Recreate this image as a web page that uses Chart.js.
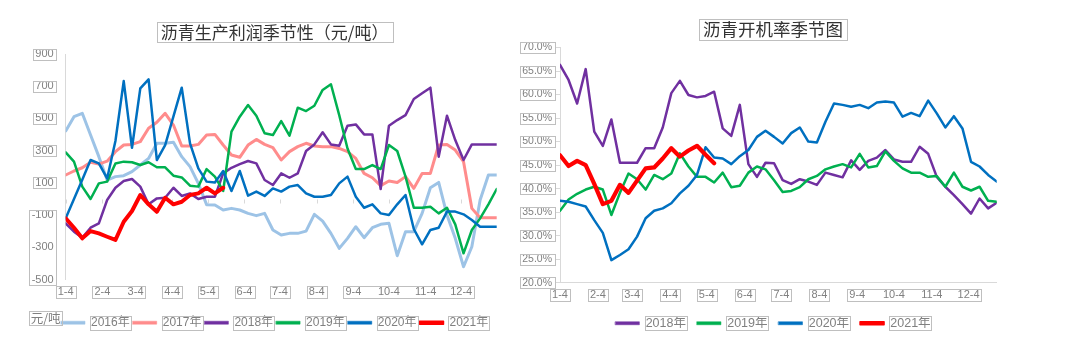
<!DOCTYPE html>
<html>
<head>
<meta charset="utf-8">
<title>沥青季节性</title>
<script src="https://cdn.jsdelivr.net/npm/chart.js@4.4.1/dist/chart.umd.min.js"></script>
<style>
	html, body { margin: 0; padding: 0; background: #fff; }
	#wrap { position: relative; width: 1080px; height: 343px; overflow: hidden; }
	.box { position: absolute; top: 0; height: 343px; }
	#profitBox { left: 0; width: 560px; }
	#rateBox { left: 500px; width: 580px; }
</style>
</head>
<body>
<div id="wrap">
	<div class="box" id="profitBox"><canvas id="profit-chart" width="560" height="343"></canvas></div>
	<div class="box" id="rateBox"><canvas id="rate-chart" width="580" height="343"></canvas></div>
</div>
<script>
// 横轴：按周排列，刻度放在每月4日
var monthDays = [0, 31, 59, 90, 120, 151, 181, 212, 243, 273, 304, 334];
var monthLabels = ['1-4', '2-4', '3-4', '4-4', '5-4', '6-4', '7-4', '8-4', '9-4', '10-4', '11-4', '12-4'];
var profitWeeks = Array.from({ length: 53 }, function(_, i) { return i; });
var rateWeeks = Array.from({ length: 52 }, function(_, i) { return i; });

// 沥青生产利润（元/吨）
var profit2016 = [422, 511, 532, 397, 263, 118, 139, 145, 170, 211, 252, 346, 346, 352, 263, 201, 97, -35, -37, -68, -58, -68, -89, -103, -89, -192, -223, -213, -213, -199, -95, -137, -213, -306, -244, -172, -240, -178, -157, -151, -352, -203, -203, -89, 70, 103, -99, -244, -420, -296, -6, 149, 149];
var profit2017 = [149, 174, 194, 228, 217, 235, 294, 335, 339, 356, 439, 476, 532, 459, 329, 329, 339, 397, 401, 335, 273, 259, 335, 370, 339, 319, 242, 294, 325, 346, 329, 325, 325, 314, 294, 252, 159, 132, 83, 112, 103, 139, 66, 159, 159, 335, 339, 304, 232, -58, -116, -116, -116];
var profit2018 = [-151, -203, -240, -178, -151, -6, 70, 112, 124, 77, -33, 4, 8, 70, 19, 35, 0, 14, 14, 159, 194, 217, 236, 221, 118, 87, 159, 132, 159, 298, 339, 414, 339, 331, 455, 463, 401, 401, 62, 455, 490, 521, 621, 656, 691, 263, 517, 366, 242, 339, 339, 339, 339];
var profit2019 = [290, 232, 77, 0, 97, 108, 221, 232, 228, 211, 228, 197, 197, 145, 134, 83, 77, 186, 139, 50, 418, 511, 583, 517, 408, 397, 484, 393, 567, 546, 579, 677, 712, 521, 314, 186, 186, 211, 186, 335, 298, 139, -54, -54, -48, -89, -54, -157, -337, -192, -120, -33, 62];
var profit2020 = [-120, 0, 120, 242, 221, 128, 360, 732, 318, 687, 743, 242, 335, 513, 691, 345, 190, 108, 103, 174, 50, 174, 21, 46, 19, 66, 46, 77, 87, 35, 14, 14, 25, 97, 139, 14, -54, -33, -89, -99, -33, 25, -186, -281, -192, -178, -78, -78, -95, -130, -172, -172, -172];
var profit2021 = [-120, -178, -244, -199, -213, -234, -254, -141, -74, 25, -33, -79, 8, -33, -17, 25, 35, 70, 35, 70];

// 沥青开机率（%）
var rate2018 = [66.3, 63.1, 58.1, 65.4, 52.1, 49.1, 54.7, 45.5, 45.5, 45.5, 48.6, 48.6, 53.0, 60.3, 62.9, 59.9, 59.4, 59.7, 60.6, 52.8, 51.2, 57.8, 45.2, 42.5, 45.5, 45.4, 41.8, 41.0, 42.0, 41.5, 40.8, 43.4, 42.9, 42.4, 46.0, 44.0, 45.9, 46.6, 48.2, 46.2, 45.7, 45.7, 48.9, 47.4, 42.5, 40.4, 38.6, 36.7, 34.7, 37.9, 35.8, 37.0];
var rate2019 = [35.3, 37.7, 38.9, 39.8, 40.4, 39.8, 34.4, 39.1, 43.2, 42.0, 39.8, 42.9, 42.0, 43.2, 47.5, 44.7, 42.5, 42.5, 41.3, 43.4, 40.3, 40.6, 43.4, 44.7, 44.1, 41.8, 39.3, 39.5, 40.3, 42.0, 42.7, 44.1, 44.7, 45.2, 44.5, 47.4, 44.5, 44.8, 47.9, 45.9, 44.3, 43.4, 43.4, 42.5, 42.7, 40.4, 43.4, 40.4, 39.6, 40.4, 37.4, 37.2];
var rate2020 = [37.4, 37.2, 36.7, 36.2, 33.3, 30.6, 24.8, 25.9, 27.1, 29.8, 33.7, 35.3, 35.8, 36.9, 39.0, 40.6, 42.9, 48.8, 46.6, 46.4, 45.2, 46.9, 48.2, 51.0, 52.3, 51.0, 49.6, 51.8, 53.0, 50.0, 49.8, 54.2, 58.1, 57.8, 57.4, 57.8, 57.1, 58.3, 58.5, 58.3, 55.3, 56.1, 55.4, 58.7, 56.0, 53.0, 55.4, 52.8, 45.7, 44.7, 42.9, 41.5];
var rate2021 = [47.1, 44.8, 45.9, 45.0, 41.0, 36.7, 37.4, 40.8, 39.1, 41.7, 44.3, 44.5, 46.4, 48.6, 46.8, 48.1, 49.1, 47.2, 45.4];

var GRID_COLOR = '#D9D9D9';
var BOX_COLOR = '#BFBFBF';
var TEXT_COLOR = '#808080';
var LATIN = '"Liberation Sans", "Noto Sans CJK SC", sans-serif';
var CJK = '"Noto Sans CJK SC", "Liberation Sans", sans-serif';

Chart.defaults.font.family = LATIN;
Chart.defaults.color = TEXT_COLOR;

function lineSet(label, values, color, width, order) {
	return {
		label: label,
		data: values,
		borderColor: color,
		backgroundColor: color,
		borderWidth: width,
		order: order,
		pointRadius: 0,
		tension: 0,
		fill: false,
		borderJoinStyle: 'round',
		borderCapStyle: 'round'
	};
}

// 只保留每月4日的刻度
function monthTicks(scale) {
	scale.ticks = monthDays.map(function(d) {
		return { value: d / 7 };
	});
}

// 右侧空白轴，只用来占位
function spacerAxis(width) {
	return {
		position: 'right',
		display: true,
		afterFit: function(scale) { scale.width = width; },
		grid: { display: false, drawTicks: false },
		border: { display: false },
		ticks: { display: false }
	};
}

function strokeBox(ctx, l, t, r, b) {
	ctx.strokeRect(Math.round(l) + 0.5, Math.round(t) + 0.5, Math.round(r - l), Math.round(b - t));
}

// 刻度文字外的灰框，同一组的刻度共用一个框
function boxTickLabels(chart, scaleId, groups, padX, padY) {
	var ctx = chart.ctx;
	var items = chart.scales[scaleId].getLabelItems();
	groups.forEach(function(group) {
		var l = Infinity, r = -Infinity, t = Infinity, b = -Infinity;
		group.forEach(function(i) {
			var item = items[i];
			if (!item) return;
			ctx.font = item.font.string;
			var w = ctx.measureText(item.label).width;
			var x = item.options.translation[0];
			var y = item.options.translation[1] + item.textOffset;
			var align = item.options.textAlign;
			var left = align === 'right' ? x - w : (align === 'left' ? x : x - w / 2);
			l = Math.min(l, left);
			r = Math.max(r, left + w);
			t = Math.min(t, y - item.font.size / 2);
			b = Math.max(b, y + item.font.size / 2);
		});
		strokeBox(ctx, l - padX, t - padY, r + padX, b + padY);
	});
}

function boxTitle(chart) {
	var ctx = chart.ctx;
	var block = chart.titleBlock;
	var opts = block.options;
	var font = Chart.helpers.toFont(opts.font);
	var pad = Chart.helpers.toPadding(opts.padding);
	ctx.font = font.string;
	var w = ctx.measureText(opts.text).width;
	var cx = (block.left + block.right) / 2;
	var cy = block.top + pad.top + font.lineHeight / 2;
	strokeBox(ctx, cx - w / 2 - 4, cy - font.lineHeight / 2, cx + w / 2 + 4, cy + font.lineHeight / 2);
}

function boxLegend(chart) {
	var ctx = chart.ctx;
	var legend = chart.legend;
	var labelOpts = legend.options.labels;
	var font = Chart.helpers.toFont(labelOpts.font);
	ctx.font = font.string;
	legend.legendItems.forEach(function(item, i) {
		var hit = legend.legendHitBoxes[i];
		var x = hit.left + labelOpts.boxWidth + font.size / 2;
		var w = ctx.measureText(item.text).width;
		var cy = hit.top + hit.height / 2;
		strokeBox(ctx, x - 1, cy - 7, x + w + 1, cy + 7);
	});
}

function boxPlugin(cfg) {
	return {
		id: 'labelBoxes',
		beforeDatasetsDraw: function(chart) {
			if (!cfg.zeroTicks) return;
			// 零轴上的月份小刻度
			var x = chart.scales.x;
			var y0 = Math.round(chart.scales.y.getPixelForValue(0)) + 0.5;
			var ctx = chart.ctx;
			ctx.save();
			ctx.strokeStyle = GRID_COLOR;
			ctx.lineWidth = 1;
			ctx.beginPath();
			x.ticks.forEach(function(t) {
				var px = Math.round(x.getPixelForValue(t.value)) + 0.5;
				ctx.moveTo(px, y0);
				ctx.lineTo(px, y0 + 4);
			});
			ctx.stroke();
			ctx.restore();
		},
		afterDraw: function(chart) {
			var ctx = chart.ctx;
			ctx.save();
			ctx.strokeStyle = BOX_COLOR;
			ctx.lineWidth = 1;
			boxTickLabels(chart, 'x', cfg.xGroups, 2, 0.5);
			boxTickLabels(chart, 'y', cfg.yGroups, 2.5, 0);
			boxTitle(chart);
			boxLegend(chart);
			if (cfg.unit) {
				ctx.font = '12.5px ' + CJK;
				ctx.fillStyle = TEXT_COLOR;
				ctx.textAlign = 'center';
				ctx.textBaseline = 'middle';
				ctx.fillText(cfg.unit.text, cfg.unit.x, cfg.unit.y);
				var w = ctx.measureText(cfg.unit.text).width;
				strokeBox(ctx, cfg.unit.x - w / 2 - 1.5, cfg.unit.y - 7, cfg.unit.x + w / 2 + 1.5, cfg.unit.y + 7);
			}
			ctx.restore();
		}
	};
}

function legendItems(chart) {
	var items = Chart.defaults.plugins.legend.labels.generateLabels(chart);
	items.forEach(function(item) {
		item.lineWidth = item.text === '2021年' ? 1.5 : 0.5;
	});
	return items;
}

// 沥青生产利润季节性
var profitChart = new Chart(document.getElementById('profit-chart'), {
	type: 'line',
	data: {
		labels: profitWeeks,
		datasets: [
			lineSet('2016年', profit2016, '#9DC3E6', 3, 5),
			lineSet('2017年', profit2017, '#FF8C8C', 3, 4),
			lineSet('2018年', profit2018, '#7030A0', 2.5, 3),
			lineSet('2019年', profit2019, '#00B050', 2.5, 2),
			lineSet('2020年', profit2020, '#0070C0', 2.5, 1),
			lineSet('2021年', profit2021, '#FF0000', 4, 0)
		]
	},
	options: {
		responsive: false,
		animation: false,
		layout: { padding: { left: 5.7, right: 16.5, top: 0, bottom: 4.3 } },
		scales: {
			x: {
				type: 'linear',
				min: 0,
				max: 52,
				afterBuildTicks: monthTicks,
				afterFit: function(scale) { scale.height = 34.1; },
				grid: { display: false, drawTicks: false },
				border: { display: false },
				ticks: {
					autoSkip: false,
					maxRotation: 0,
					padding: 5.8,
					font: { size: 11 },
					color: TEXT_COLOR,
					callback: function(value, index) { return monthLabels[index]; }
				}
			},
			y: {
				min: -500,
				max: 900,
				afterFit: function(scale) { scale.width = 60; },
				grid: {
					drawTicks: false,
					color: function(ctx) { return ctx.tick && ctx.tick.value === 0 ? GRID_COLOR : 'rgba(0,0,0,0)'; }
				},
				border: { display: true, color: GRID_COLOR },
				ticks: { stepSize: 200, padding: 12, font: { size: 11 }, color: TEXT_COLOR }
			},
			y2: spacerAxis(46.8)
		},
		plugins: {
			title: {
				display: true,
				text: '沥青生产利润季节性（元/吨）',
				color: '#333333',
				font: { family: CJK, size: 17, weight: 'normal' },
				padding: { top: 22.3, bottom: 11.3 }
			},
			legend: {
				position: 'bottom',
				labels: {
					boxWidth: 24,
					boxHeight: 3,
					padding: 3,
					font: { size: 12 },
					color: TEXT_COLOR,
					generateLabels: legendItems,
					sort: function(a, b) { return a.datasetIndex - b.datasetIndex; }
				}
			},
			tooltip: { enabled: false }
		}
	},
	plugins: [boxPlugin({
		zeroTicks: true,
		xGroups: [[0], [1, 2], [3], [4], [5], [6], [7], [8, 9, 10, 11]],
		yGroups: [[0, 1, 2], [3], [4], [5], [6], [7]],
		unit: { text: '元/吨', x: 45.6, y: 318 }
	})]
});

// 沥青开机率季节图
var rateChart = new Chart(document.getElementById('rate-chart'), {
	type: 'line',
	data: {
		labels: rateWeeks,
		datasets: [
			lineSet('2018年', rate2018, '#7030A0', 2.5, 3),
			lineSet('2019年', rate2019, '#00B050', 2.5, 2),
			lineSet('2020年', rate2020, '#0070C0', 2.5, 1),
			lineSet('2021年', rate2021, '#FF0000', 4.2, 0)
		]
	},
	options: {
		responsive: false,
		animation: false,
		layout: { padding: { left: 20, right: 54, top: 0, bottom: 3.5 } },
		scales: {
			x: {
				type: 'linear',
				min: 0,
				max: 51,
				afterBuildTicks: monthTicks,
				afterFit: function(scale) { scale.height = 23.3; },
				grid: { display: false, drawTicks: false },
				border: { display: true, color: GRID_COLOR },
				ticks: {
					autoSkip: false,
					maxRotation: 0,
					padding: 5.7,
					font: { size: 11 },
					color: TEXT_COLOR,
					callback: function(value, index) { return monthLabels[index]; }
				}
			},
			y: {
				min: 20,
				max: 70,
				afterFit: function(scale) { scale.width = 40; },
				grid: { drawOnChartArea: false, drawTicks: true, tickLength: 4, color: GRID_COLOR },
				border: { display: true, color: GRID_COLOR },
				ticks: {
					stepSize: 5,
					padding: 4,
					font: { size: 10.5 },
					color: TEXT_COLOR,
					callback: function(value) { return value.toFixed(1) + '%'; }
				}
			},
			y2: spacerAxis(29.3)
		},
		plugins: {
			title: {
				display: true,
				text: '沥青开机率季节图',
				color: '#333333',
				font: { family: CJK, size: 17.5, weight: 'normal' },
				padding: { top: 19, bottom: 7.5 }
			},
			legend: {
				position: 'bottom',
				labels: {
					boxWidth: 24,
					boxHeight: 3,
					padding: 11,
					font: { size: 12.5 },
					color: TEXT_COLOR,
					generateLabels: legendItems,
					sort: function(a, b) { return a.datasetIndex - b.datasetIndex; }
				}
			},
			tooltip: { enabled: false }
		}
	},
	plugins: [boxPlugin({
		zeroTicks: false,
		xGroups: [[0], [1], [2], [3], [4], [5], [6], [7], [8, 9, 10, 11]],
		yGroups: [[0], [1], [2], [3], [4], [5], [6], [7], [8], [9], [10]]
	})]
});
</script>
</body>
</html>
